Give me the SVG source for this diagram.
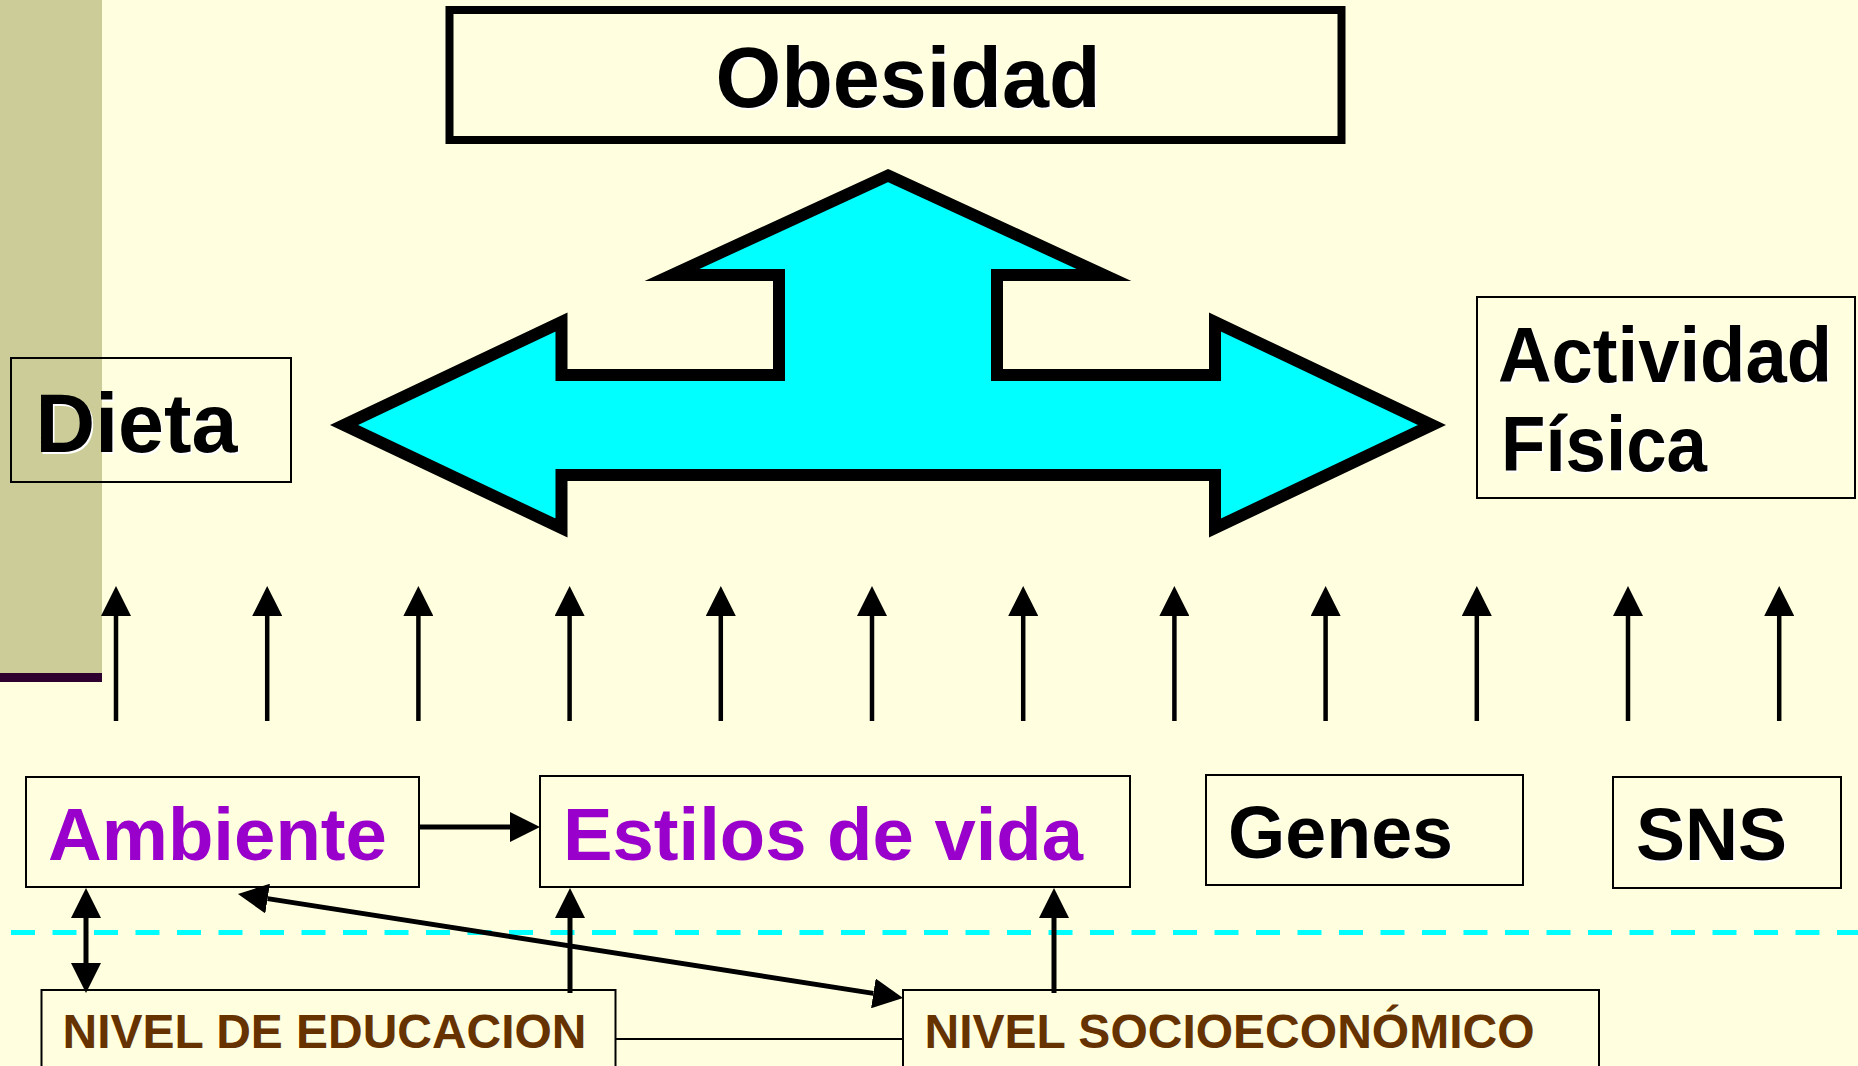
<svg xmlns="http://www.w3.org/2000/svg" width="1858" height="1066" viewBox="0 0 1858 1066">
<style>
.box{fill:none;stroke:#000;stroke-width:2}
.big{font-family:"Liberation Sans",Arial,sans-serif;font-weight:bold}
.blk{fill:#000}
.pur{fill:#9900CC}
.brn{fill:#663300}
.sh{fill:#fff}
.con{stroke:#000;stroke-width:5;fill:none}
.up{stroke:#000;stroke-width:4.5;fill:none}
</style>
<defs>
<marker id="ah" viewBox="0 0 30 30" refX="0" refY="15" markerWidth="30" markerHeight="30" markerUnits="userSpaceOnUse" orient="auto-start-reverse">
<path d="M0,0 L30,15 L0,30 Z" fill="#000"/>
</marker>
</defs>
<rect x="0" y="0" width="1858" height="1066" fill="#FFFFE0"/>
<rect x="0" y="0" width="102" height="673" fill="#CCCC99"/>
<rect x="0" y="673" width="102" height="9" fill="#2E0030"/>

<g id="obesidad">
<rect x="449.5" y="10" width="892" height="130" fill="none" stroke="#000" stroke-width="8"/>
<text class="big sh" x="909.5" y="108.5" font-size="85" text-anchor="middle" textLength="385" lengthAdjust="spacingAndGlyphs">Obesidad</text>
<text class="big blk" x="908" y="107" font-size="85" text-anchor="middle" textLength="385" lengthAdjust="spacingAndGlyphs">Obesidad</text>
</g>

<g id="big-arrow">
<polygon points="888,175.5 1104,275 997,275 997,375 1215,375 1215,322 1432,425 1215,528 1215,475 561.5,475 561.5,528 344,425 561.5,322 561.5,375 779,375 779,275 672,275" fill="#00FFFF" stroke="#000" stroke-width="12" stroke-miterlimit="10"/>
</g>

<g id="dieta">
<rect class="box" x="11" y="358" width="280" height="124"/>
<text class="big sh" x="37" y="453.5" font-size="84" textLength="202" lengthAdjust="spacingAndGlyphs">Dieta</text>
<text class="big blk" x="35.5" y="452" font-size="84" textLength="202" lengthAdjust="spacingAndGlyphs">Dieta</text>
</g>

<g id="actividad">
<rect class="box" x="1477" y="297" width="378" height="201"/>
<text class="big sh" x="1499.5" y="383.5" font-size="78" textLength="334" lengthAdjust="spacingAndGlyphs">Actividad</text>
<text class="big blk" x="1498" y="382" font-size="78" textLength="334" lengthAdjust="spacingAndGlyphs">Actividad</text>
<text class="big sh" x="1502.5" y="472.5" font-size="78" textLength="206" lengthAdjust="spacingAndGlyphs">Física</text>
<text class="big blk" x="1501" y="471" font-size="78" textLength="206" lengthAdjust="spacingAndGlyphs">Física</text>
</g>

<g id="ambiente">
<rect class="box" x="26" y="777" width="393" height="110"/>
<text class="big pur" x="48" y="859.5" font-size="75" textLength="339" lengthAdjust="spacingAndGlyphs">Ambiente</text>
</g>

<g id="estilos">
<rect class="box" x="540" y="776" width="590" height="111"/>
<text class="big pur" x="563" y="859.5" font-size="75" textLength="520" lengthAdjust="spacingAndGlyphs">Estilos de vida</text>
</g>

<g id="genes">
<rect class="box" x="1206" y="775" width="317" height="110"/>
<text class="big sh" x="1229.5" y="859" font-size="75" textLength="225" lengthAdjust="spacingAndGlyphs">Genes</text>
<text class="big blk" x="1228" y="857.5" font-size="75" textLength="225" lengthAdjust="spacingAndGlyphs">Genes</text>
</g>

<g id="sns">
<rect class="box" x="1613" y="777" width="228" height="111"/>
<text class="big sh" x="1637.5" y="861.5" font-size="75" textLength="151" lengthAdjust="spacingAndGlyphs">SNS</text>
<text class="big blk" x="1636" y="860" font-size="75" textLength="151" lengthAdjust="spacingAndGlyphs">SNS</text>
</g>

<g id="nivel-educacion">
<rect class="box" x="41.5" y="990" width="574" height="100"/>
<text class="big brn" x="62.5" y="1048" font-size="48" textLength="524" lengthAdjust="spacingAndGlyphs">NIVEL DE EDUCACION</text>
</g>

<g id="nivel-socioeconomico">
<rect class="box" x="903" y="990" width="696" height="100"/>
<text class="big brn" x="924.5" y="1048" font-size="48" textLength="610" lengthAdjust="spacingAndGlyphs">NIVEL SOCIOECONÓMICO</text>
</g>

<line x1="11" y1="932.5" x2="1858" y2="932.5" stroke="#00FFFF" stroke-width="5" stroke-dasharray="24,17.5"/>

<g id="connectors">
<line class="up" x1="116" y1="721" x2="116" y2="616" marker-end="url(#ah)"/>
<line class="up" x1="267.2" y1="721" x2="267.2" y2="616" marker-end="url(#ah)"/>
<line class="up" x1="418.4" y1="721" x2="418.4" y2="616" marker-end="url(#ah)"/>
<line class="up" x1="569.6" y1="721" x2="569.6" y2="616" marker-end="url(#ah)"/>
<line class="up" x1="720.8" y1="721" x2="720.8" y2="616" marker-end="url(#ah)"/>
<line class="up" x1="872" y1="721" x2="872" y2="616" marker-end="url(#ah)"/>
<line class="up" x1="1023.2" y1="721" x2="1023.2" y2="616" marker-end="url(#ah)"/>
<line class="up" x1="1174.4" y1="721" x2="1174.4" y2="616" marker-end="url(#ah)"/>
<line class="up" x1="1325.6" y1="721" x2="1325.6" y2="616" marker-end="url(#ah)"/>
<line class="up" x1="1476.8" y1="721" x2="1476.8" y2="616" marker-end="url(#ah)"/>
<line class="up" x1="1628" y1="721" x2="1628" y2="616" marker-end="url(#ah)"/>
<line class="up" x1="1779.2" y1="721" x2="1779.2" y2="616" marker-end="url(#ah)"/>

<line class="con" x1="419.5" y1="827" x2="510" y2="827" marker-end="url(#ah)"/>
<line class="con" x1="86" y1="918" x2="86" y2="963" marker-start="url(#ah)" marker-end="url(#ah)"/>
<line class="con" x1="570" y1="993" x2="570" y2="918" marker-end="url(#ah)"/>
<line class="con" x1="1054" y1="993" x2="1054" y2="918" marker-end="url(#ah)"/>
<line class="con" x1="267.6" y1="898.6" x2="873.4" y2="993.4" marker-start="url(#ah)" marker-end="url(#ah)"/>
<line x1="615.5" y1="1039" x2="903" y2="1039" stroke="#000" stroke-width="2"/>
</g>
</svg>
